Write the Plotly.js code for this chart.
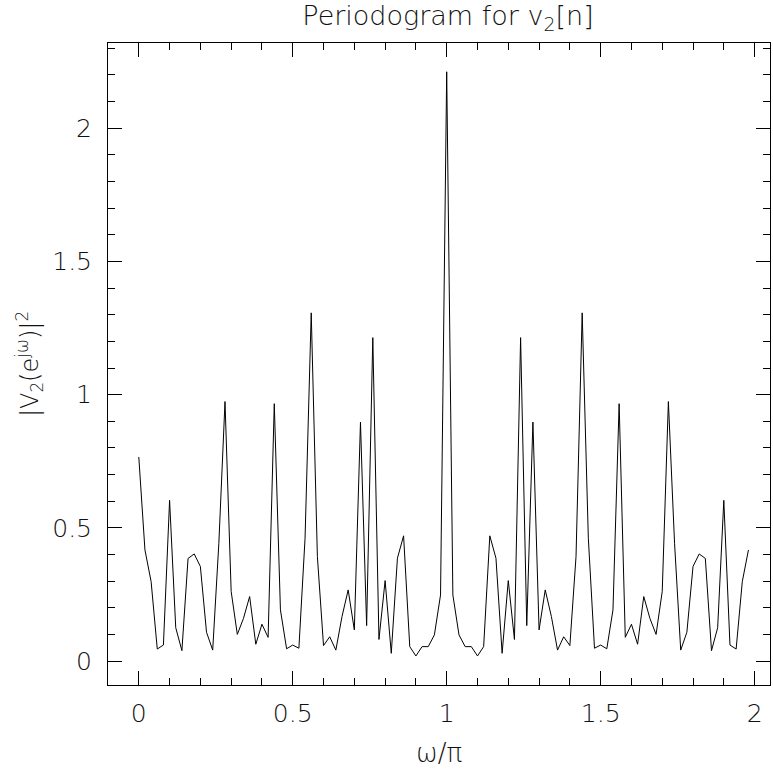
<!DOCTYPE html>
<html>
<head>
<meta charset="utf-8">
<script src="https://cdn.plot.ly/plotly-3.0.1.min.js"></script>
<style>html,body{margin:0;padding:0;background:#fff;}#plot{width:773px;height:770px;}</style>
</head>
<body>
<div id="plot"></div>
<script>
// normalized frequency omega/pi
var omegaOverPi = [
 0.00,0.02,0.04,0.06,0.08,0.10,0.12,0.14,0.16,0.18,
 0.20,0.22,0.24,0.26,0.28,0.30,0.32,0.34,0.36,0.38,
 0.40,0.42,0.44,0.46,0.48,0.50,0.52,0.54,0.56,0.58,
 0.60,0.62,0.64,0.66,0.68,0.70,0.72,0.74,0.76,0.78,
 0.80,0.82,0.84,0.86,0.88,0.90,0.92,0.94,0.96,0.98,
 1.00,1.02,1.04,1.06,1.08,1.10,1.12,1.14,1.16,1.18,
 1.20,1.22,1.24,1.26,1.28,1.30,1.32,1.34,1.36,1.38,
 1.40,1.42,1.44,1.46,1.48,1.50,1.52,1.54,1.56,1.58,
 1.60,1.62,1.64,1.66,1.68,1.70,1.72,1.74,1.76,1.78,
 1.80,1.82,1.84,1.86,1.88,1.90,1.92,1.94,1.96,1.98
];
// periodogram |V2(e^jw)|^2
var periodogram = [
 0.766,0.417,0.298,0.045,0.060,0.603,0.125,0.039,0.385,0.402,
 0.355,0.108,0.041,0.442,0.974,0.261,0.100,0.160,0.242,0.063,
 0.138,0.089,0.966,0.192,0.046,0.060,0.048,0.461,1.307,0.392,
 0.058,0.091,0.041,0.167,0.267,0.117,0.897,0.133,1.214,0.081,
 0.302,0.029,0.386,0.470,0.054,0.019,0.054,0.054,0.098,0.248,
 2.212,0.248,0.098,0.054,0.054,0.019,0.054,0.470,0.386,0.029,
 0.302,0.081,1.214,0.133,0.897,0.117,0.267,0.167,0.041,0.091,
 0.058,0.392,1.307,0.461,0.048,0.060,0.046,0.192,0.966,0.089,
 0.138,0.063,0.242,0.160,0.100,0.261,0.974,0.442,0.041,0.108,
 0.355,0.402,0.385,0.039,0.125,0.603,0.060,0.045,0.298,0.417
];
var xTickVals = [0, 0.5, 1, 1.5, 2];
var xTickText = ['0', '0.5', '1', '1.5', '2'];
var yTickVals = [0, 0.5, 1, 1.5, 2];
var yTickText = ['0', '0.5', '1', '1.5', '2'];

var fontFam = 'DejaVu Sans, sans-serif';
var txtColor = '#111';
var trace = {
  x: omegaOverPi, y: periodogram, type: 'scatter', mode: 'lines',
  line: {color: '#000', width: 1}, hoverinfo: 'skip'
};
var axisCommon = {
  showgrid: false, zeroline: false, showline: true, linecolor: '#000', linewidth: 1,
  mirror: 'allticks', ticks: 'inside', ticklen: 14, tickwidth: 1, tickcolor: '#000',
  tickfont: {family: fontFam, size: 25, color: txtColor, weight: 200}
};
var layout = {
  width: 773, height: 770,
  margin: {l: 108, r: 3, t: 43, b: 85},
  paper_bgcolor: '#fff', plot_bgcolor: '#fff',
  showlegend: false,
  title: {text: 'Periodogram for v<sub>2</sub>[n]', font: {family: fontFam, size: 27, color: txtColor, weight: 200},
          x: 448/773, xanchor: 'center', xref: 'container', y: 0.992, yanchor: 'top'},
  xaxis: Object.assign({}, axisCommon, {
    range: [-0.1, 2.05], tickvals: xTickVals, ticktext: xTickText, ticklabelstandoff: 6,
    minor: {dtick: 0.1, tick0: 0, ticks: 'inside', ticklen: 7, tickcolor: '#000', tickwidth: 1},
    title: {text: 'ω/π', font: {family: fontFam, size: 26, color: txtColor, weight: 200}, standoff: 16}
  }),
  yaxis: Object.assign({}, axisCommon, {
    range: [-0.09, 2.32], tickvals: yTickVals, ticktext: yTickText, ticklabelstandoff: 10,
    minor: {dtick: 0.1, tick0: 0, ticks: 'inside', ticklen: 7, tickcolor: '#000', tickwidth: 1},
    title: {text: '|V<sub>2</sub>(e<sup>jω</sup>)|<sup>2</sup>', font: {family: fontFam, size: 24, color: txtColor, weight: 200}, standoff: 6}
  })
};
Plotly.newPlot('plot', [trace], layout, {displayModeBar: false, staticPlot: true});
</script>
</body>
</html>
